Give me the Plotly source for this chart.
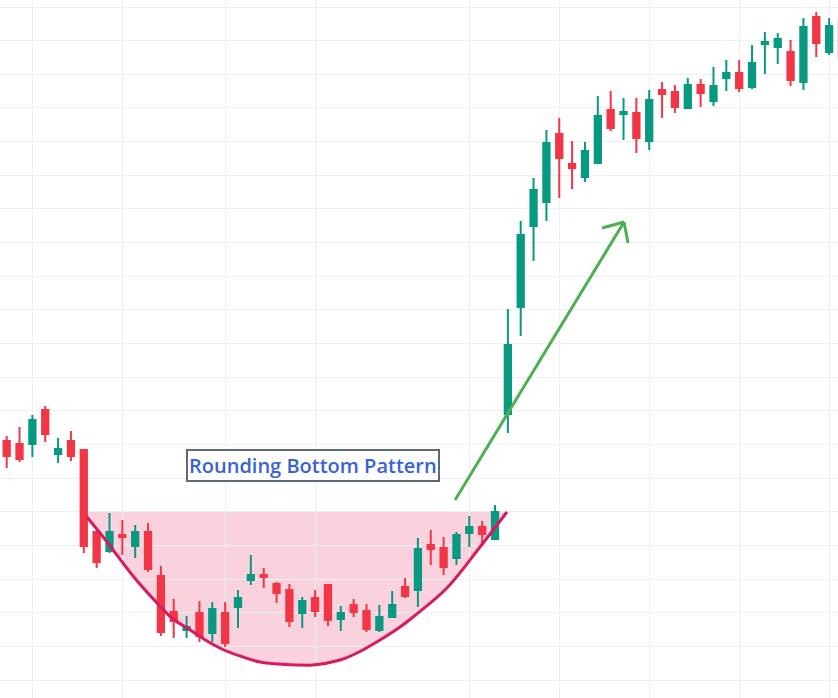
import plotly.graph_objects as go

# ---- data (price units) ----
idx = list(range(66))
open_ = [259, 256, 256, 290, 246, 259, 250, 168, 149, 165, 154, 168, 124, 88, 70, 87, 67, 87, 93, 120,
         125, 116, 110, 87, 102, 115, 81, 95, 89, 70, 83, 113, 110, 155, 152, 142, 167, 173, 161, 286,
         393, 474, 498, 566, 536, 523, 537, 590, 586, 587, 559, 610, 608, 592, 615, 599, 622, 627, 613, 656,
         653, 648, 618, 683, 648, 680]
high = [264, 273, 285, 294, 262, 269, 251, 169, 187, 180, 175, 177, 134, 101, 84, 99, 98, 98, 110, 145,
        132, 118, 116, 103, 110, 116, 94, 101, 96, 95, 109, 122, 162, 170, 163, 168, 184, 179, 195, 391,
        479, 522, 570, 582, 559, 558, 604, 609, 602, 602, 610, 618, 615, 622, 621, 633, 640, 640, 655, 668,
        667, 660, 682, 688, 682, 690]
low = [232, 238, 243, 258, 237, 239, 147, 132, 147, 145, 142, 128, 64, 62, 62, 58, 58, 53, 72, 115,
       112, 97, 73, 72, 83, 74, 69, 83, 68, 68, 82, 102, 93, 135, 125, 135, 153, 156, 160, 267,
       364, 439, 479, 502, 511, 518, 536, 569, 560, 547, 550, 582, 587, 591, 593, 594, 609, 608, 611, 626,
       636, 614, 610, 643, 645, 630]
close = [244, 241, 280, 266, 251, 244, 154, 138, 168, 163, 168, 131, 68, 79, 73, 64, 91, 57, 102, 125,
         123, 107, 79, 99, 89, 80, 87, 88, 71, 83, 95, 104, 151, 151, 133, 165, 173, 166, 188, 355,
         465, 510, 557, 542, 532, 549, 584, 572, 588, 562, 600, 606, 593, 615, 607, 614, 627, 612, 637, 658,
         661, 620, 673, 657, 674, 640]

# rounding-bottom outline (annotation drawing)
bowl_x = [6.25, 7.81, 9.83, 11.70, 12.94, 14.03, 15.59, 16.91, 18.16, 19.71, 22.59, 23.84, 25.94,
          27.26, 29.05, 30.61, 31.62, 34.26, 36.83, 38.93]
bowl_y = [183, 158, 124, 97, 81, 72, 59, 50, 44, 38, 35, 35, 40, 47, 60, 73, 83, 112, 153, 188]
rim_y = 188

arrow_start = (34.89, 200)
arrow_tip = (48.04, 478)
wing_a = (46.33, 472)
wing_b = (48.35, 457)

grid_x = [2, 9, 17, 24, 36, 43, 50, 57, 64]

label = "Rounding Bottom Pattern"

UP = "#089981"
DOWN = "#F23645"

fig = go.Figure()

# pink bowl fill, drawn beneath the candles
path = "M " + " L ".join(f"{x},{y}" for x, y in zip(bowl_x, bowl_y))
path += f" L {bowl_x[-1]},{rim_y} L {bowl_x[0]},{rim_y} Z"
fig.add_shape(type="path", path=path, xref="x", yref="y", layer="below",
              fillcolor="#f9d2de", line=dict(width=0))

fig.add_trace(go.Candlestick(
    x=idx, open=open_, high=high, low=low, close=close,
    increasing=dict(line=dict(color=UP, width=2), fillcolor=UP),
    decreasing=dict(line=dict(color=DOWN, width=2), fillcolor=DOWN),
    showlegend=False, hoverinfo="skip",
))

# bowl curve
fig.add_trace(go.Scatter(
    x=bowl_x, y=bowl_y, mode="lines", line=dict(color="#d81b60", width=3, shape="spline"),
    hoverinfo="skip", showlegend=False,
))

# arrow
for (x0, y0), (x1, y1) in [(arrow_start, arrow_tip), (wing_a, arrow_tip), (wing_b, arrow_tip)]:
    fig.add_shape(type="line", x0=x0, y0=y0, x1=x1, y1=y1, xref="x", yref="y",
                  line=dict(color="#4caf50", width=3))

fig.add_annotation(
    x=23.84, y=234.5, xref="x", yref="y", text=label, showarrow=False,
    font=dict(family="Open Sans", size=20, weight=600, color="#3a62d4"),
    bgcolor="white", bordercolor="#5d6a73", borderwidth=2, borderpad=1,
)

fig.update_layout(
    width=838, height=698, margin=dict(l=0, r=0, t=0, b=0),
    paper_bgcolor="white", plot_bgcolor="white", showlegend=False, boxgap=0.3,
    xaxis=dict(range=[-0.52, 64.69], tickvals=grid_x, showticklabels=False, showgrid=True,
               gridcolor="#eef0f3", gridwidth=1, zeroline=False, showline=False,
               rangeslider=dict(visible=False), fixedrange=True),
    yaxis=dict(range=[2, 700], tick0=20, dtick=33.65, showticklabels=False, showgrid=True,
               gridcolor="#eef0f3", gridwidth=1, zeroline=False, showline=False, fixedrange=True),
)

fig.write_html("out.html", config={"displayModeBar": False},
               post_script="document.body.style.margin='0';document.body.style.overflow='hidden';")
